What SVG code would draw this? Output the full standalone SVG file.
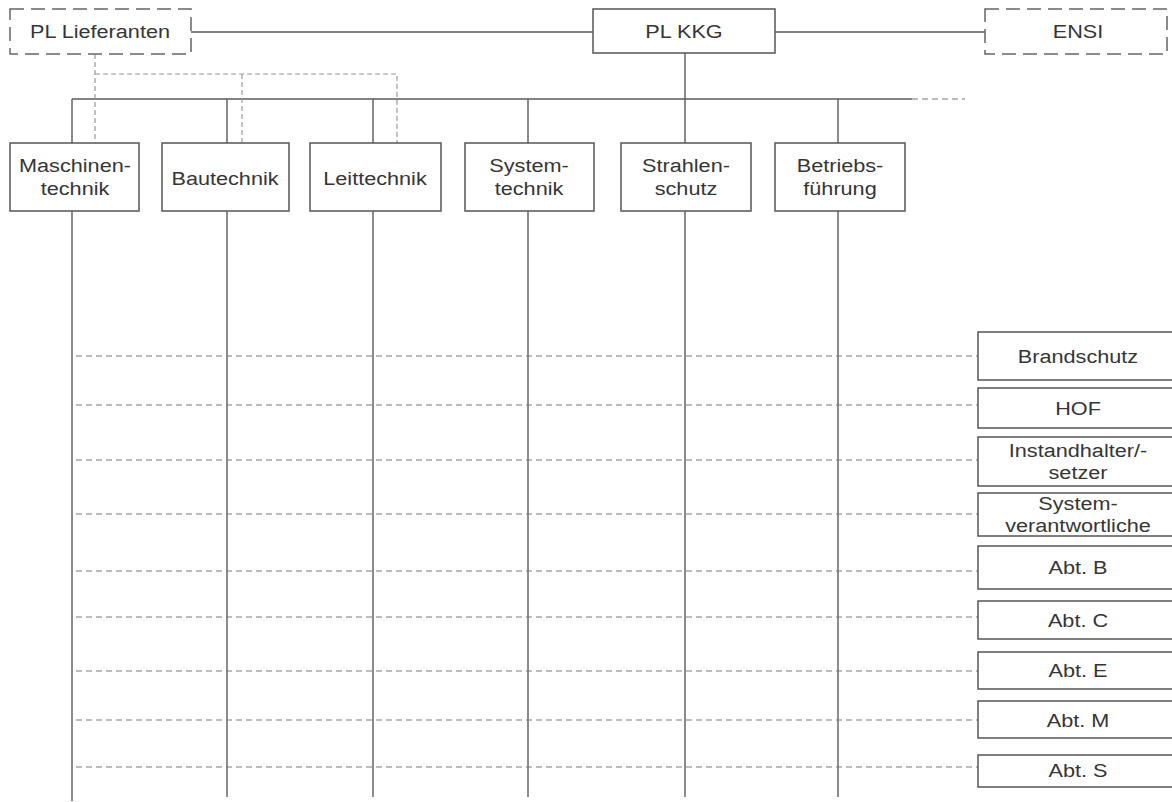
<svg xmlns="http://www.w3.org/2000/svg" width="1172" height="802" viewBox="0 0 1172 802">
<style>
text{font-family:"Liberation Sans",Arial,sans-serif;font-size:19px;fill:#353535;text-anchor:middle}
.box{fill:#fff;stroke:#555;stroke-width:1.5}
.dbox{fill:#fff;stroke:#666;stroke-width:1.5;stroke-dasharray:14,7}
.ln{stroke:#5a5a5a;stroke-width:1.4;fill:none}
.dl{stroke:#7a7a7a;stroke-width:1.2;fill:none;stroke-dasharray:6,4}
.gl{stroke:#9a9a9a;stroke-width:1.2;fill:none;stroke-dasharray:5,3}
</style>
<rect width="1172" height="802" fill="#fff"/>
<g id="connectors">
<line class="ln" x1="191" y1="32" x2="593" y2="32"/>
<line class="ln" x1="775" y1="32" x2="985" y2="32"/>
<line class="ln" x1="685" y1="53" x2="685" y2="143"/>
<line class="ln" x1="72" y1="99" x2="912" y2="99"/>
<line class="dl" x1="912" y1="99" x2="965" y2="99"/>
<line class="ln" x1="72" y1="99" x2="72" y2="143"/>
<line class="ln" x1="227" y1="99" x2="227" y2="143"/>
<line class="ln" x1="373" y1="99" x2="373" y2="143"/>
<line class="ln" x1="528" y1="99" x2="528" y2="143"/>
<line class="ln" x1="838" y1="99" x2="838" y2="143"/>
<line class="ln" x1="72" y1="211" x2="72" y2="801"/>
<line class="ln" x1="227" y1="211" x2="227" y2="797"/>
<line class="ln" x1="373" y1="211" x2="373" y2="797"/>
<line class="ln" x1="528" y1="211" x2="528" y2="797"/>
<line class="ln" x1="685" y1="211" x2="685" y2="797"/>
<line class="ln" x1="838" y1="211" x2="838" y2="797"/>
<path class="gl" d="M95 54 V143 M95 74 H397 V143 M242 74 V143"/>
<line class="dl" x1="76" y1="356" x2="978" y2="356"/>
<line class="dl" x1="76" y1="405" x2="978" y2="405"/>
<line class="dl" x1="76" y1="460" x2="978" y2="460"/>
<line class="dl" x1="76" y1="514" x2="978" y2="514"/>
<line class="dl" x1="76" y1="571" x2="978" y2="571"/>
<line class="dl" x1="76" y1="617" x2="978" y2="617"/>
<line class="dl" x1="76" y1="671" x2="978" y2="671"/>
<line class="dl" x1="76" y1="720" x2="978" y2="720"/>
<line class="dl" x1="76" y1="767" x2="978" y2="767"/>
</g>
<g id="pl-lieferanten"><rect class="dbox" x="10" y="9" width="181" height="45"/><text transform="translate(100 38) scale(1.14 1)">PL Lieferanten</text></g>
<g id="pl-kkg"><rect class="box" x="593" y="9" width="182" height="44"/><text transform="translate(684 38) scale(1.14 1)">PL KKG</text></g>
<g id="ensi"><rect class="dbox" x="985" y="9" width="182" height="45"/><text transform="translate(1078 38) scale(1.14 1)">ENSI</text></g>
<g id="maschinentechnik"><rect class="box" x="10" y="143" width="129" height="68"/><text transform="translate(75 172) scale(1.14 1)">Maschinen-</text><text transform="translate(75 195) scale(1.14 1)">technik</text></g>
<g id="bautechnik"><rect class="box" x="162" y="143" width="127" height="68"/><text transform="translate(225 185) scale(1.14 1)">Bautechnik</text></g>
<g id="leittechnik"><rect class="box" x="310" y="143" width="131" height="68"/><text transform="translate(375 185) scale(1.14 1)">Leittechnik</text></g>
<g id="systemtechnik"><rect class="box" x="465" y="143" width="129" height="68"/><text transform="translate(529 172) scale(1.14 1)">System-</text><text transform="translate(529 195) scale(1.14 1)">technik</text></g>
<g id="strahlenschutz"><rect class="box" x="621" y="143" width="130" height="68"/><text transform="translate(686 172) scale(1.14 1)">Strahlen-</text><text transform="translate(686 195) scale(1.14 1)">schutz</text></g>
<g id="betriebsfuehrung"><rect class="box" x="775" y="143" width="130" height="68"/><text transform="translate(840 172) scale(1.14 1)">Betriebs-</text><text transform="translate(840 195) scale(1.14 1)">führung</text></g>
<g id="brandschutz"><rect class="box" x="978" y="332" width="202" height="48"/><text transform="translate(1078 363) scale(1.14 1)">Brandschutz</text></g>
<g id="hof"><rect class="box" x="978" y="388" width="202" height="40"/><text transform="translate(1078 415) scale(1.14 1)">HOF</text></g>
<g id="instandhalter"><rect class="box" x="978" y="437" width="202" height="49"/><text transform="translate(1078 457) scale(1.14 1)">Instandhalter/-</text><text transform="translate(1078 479) scale(1.14 1)">setzer</text></g>
<g id="systemverantwortliche"><rect class="box" x="978" y="493" width="202" height="43"/><text transform="translate(1078 510) scale(1.14 1)">System-</text><text transform="translate(1078 532) scale(1.14 1)">verantwortliche</text></g>
<g id="abt-b"><rect class="box" x="978" y="546" width="202" height="43"/><text transform="translate(1078 574) scale(1.14 1)">Abt. B</text></g>
<g id="abt-c"><rect class="box" x="978" y="601" width="202" height="38"/><text transform="translate(1078 627) scale(1.14 1)">Abt. C</text></g>
<g id="abt-e"><rect class="box" x="978" y="652" width="202" height="37"/><text transform="translate(1078 677) scale(1.14 1)">Abt. E</text></g>
<g id="abt-m"><rect class="box" x="978" y="701" width="202" height="37"/><text transform="translate(1078 727) scale(1.14 1)">Abt. M</text></g>
<g id="abt-s"><rect class="box" x="978" y="755" width="202" height="32"/><text transform="translate(1078 777) scale(1.14 1)">Abt. S</text></g>
</svg>
